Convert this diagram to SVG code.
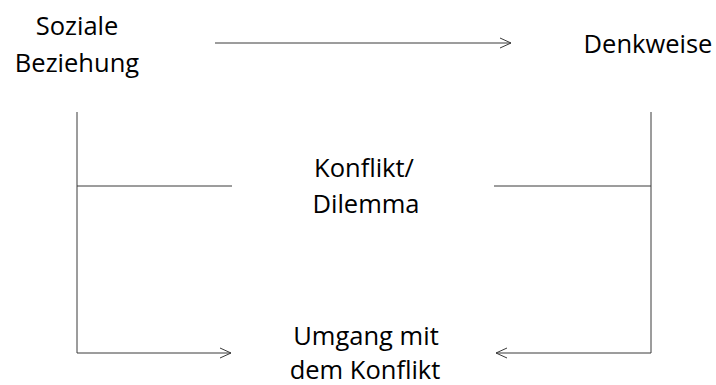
<svg xmlns="http://www.w3.org/2000/svg" width="716" height="385" viewBox="0 0 716 385">
<style>
text{font-family:"Open Sans","Liberation Sans",sans-serif;font-size:25.5px;fill:#000;text-anchor:middle}
.c{fill:none;stroke:#3a3a3a;stroke-width:1}
</style>
<defs>
<marker id="a" markerWidth="14" markerHeight="12" refX="12" refY="6" orient="auto" markerUnits="userSpaceOnUse">
<path d="M1,1 L12,6 L1,11" fill="none" stroke="#3a3a3a" stroke-width="1"/>
</marker>
</defs>
<rect width="716" height="385" fill="#fff"/>
<g id="connectors">
<line class="c" x1="215" y1="43" x2="511" y2="43" marker-end="url(#a)"/>
<polyline class="c" points="77,112 77,353 231,353" marker-end="url(#a)"/>
<line class="c" x1="77" y1="186" x2="232" y2="186"/>
<polyline class="c" points="651,112 651,353 496,353" marker-end="url(#a)"/>
<line class="c" x1="494" y1="186" x2="651" y2="186"/>
</g>
<g id="soziale"><text x="77" y="35">Soziale</text><text x="77" y="72">Beziehung</text></g>
<g id="denkweise"><text x="648" y="53">Denkweise</text></g>
<g id="konflikt"><text x="364" y="177">Konflikt/</text><text x="366" y="213">Dilemma</text></g>
<g id="umgang"><text x="366" y="345">Umgang mit</text><text x="365" y="379">dem Konflikt</text></g>
</svg>
